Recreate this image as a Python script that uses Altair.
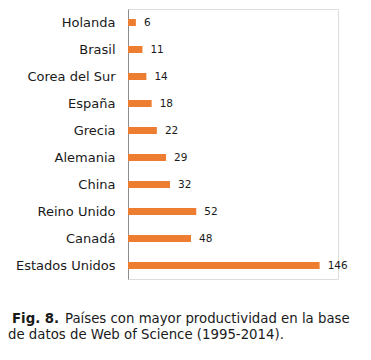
import altair as alt
import pandas as pd

paises = ["Holanda", "Brasil", "Corea del Sur", "España", "Grecia",
          "Alemania", "China", "Reino Unido", "Canadá", "Estados Unidos"]
valores = [6, 11, 14, 18, 22, 29, 32, 52, 48, 146]
caption_bold = "Fig. 8."
caption_line1 = "Países con mayor productividad en la base"
caption_line2 = "de datos de Web of Science (1995-2014)."

df = pd.DataFrame({"pais": paises, "valor": valores})
cap = pd.DataFrame({"b": [caption_bold], "l1": [caption_line1], "l2": [caption_line2]})

FONT = "DejaVu Sans"
CAP = 13.3

y = alt.Y("pais:N", sort=paises,
          scale=alt.Scale(paddingInner=0.74, paddingOuter=0.37),
          axis=alt.Axis(title=None, ticks=False, domain=True, domainColor="#8c8c8c",
                        labelPadding=13, labelFontSize=13, labelFont=FONT,
                        labelColor="#1a1a1a", grid=False))
x = alt.X("valor:Q", scale=alt.Scale(domain=[0, 160]), axis=None)

bars = alt.Chart(df).mark_bar(color="#ED7D31").encode(x=x, y=y)
labels = alt.Chart(df).mark_text(align="left", baseline="middle", dx=8,
                                 fontSize=10.5, font=FONT, color="#1a1a1a").encode(
    x=x, y=y, text="valor:Q")

c_bold = alt.Chart(cap).mark_text(align="left", baseline="alphabetic", fontSize=CAP,
                                  font=FONT, fontWeight="bold", color="#1a1a1a").encode(
    x=alt.value(-116), y=alt.value(314), text="b:N")
c_l1 = alt.Chart(cap).mark_text(align="left", baseline="alphabetic", fontSize=CAP,
                                font=FONT, color="#1a1a1a").encode(
    x=alt.value(-63), y=alt.value(314), text="l1:N")
c_l2 = alt.Chart(cap).mark_text(align="left", baseline="alphabetic", fontSize=CAP,
                                font=FONT, color="#1a1a1a").encode(
    x=alt.value(-120), y=alt.value(330), text="l2:N")

chart = alt.layer(bars, labels, c_bold, c_l1, c_l2).properties(
    width=210, height=270,
    autosize=alt.AutoSizeParams(type="none"),
    padding={"left": 120, "top": 1, "right": 25, "bottom": 70},
).configure_view(stroke=None).configure(background="white")

chart.save("out.html", embed_options={"renderer": "svg", "actions": False})
